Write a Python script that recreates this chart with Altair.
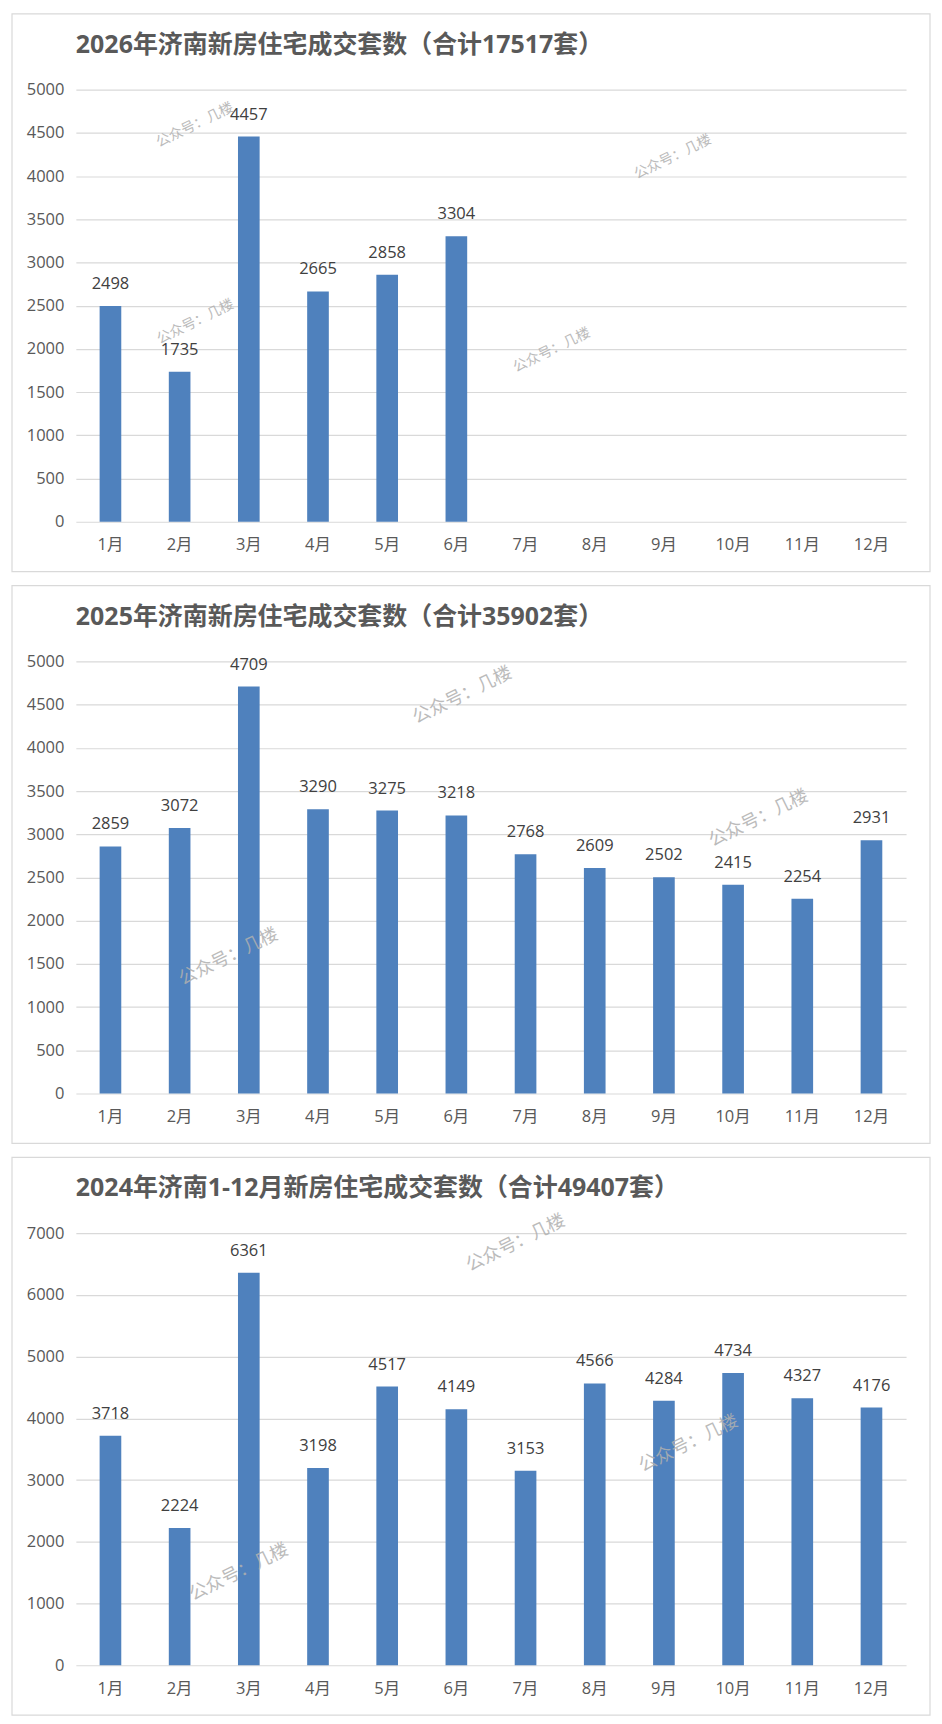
import altair as alt
import pandas as pd

months = ["1月", "2月", "3月", "4月", "5月", "6月", "7月", "8月", "9月", "10月", "11月", "12月"]

title_2026 = "2026年济南新房住宅成交套数（合计17517套）"
title_2025 = "2025年济南新房住宅成交套数（合计35902套）"
title_2024 = "2024年济南1-12月新房住宅成交套数（合计49407套）"

values_2026 = [2498, 1735, 4457, 2665, 2858, 3304]
values_2025 = [2859, 3072, 4709, 3290, 3275, 3218, 2768, 2609, 2502, 2415, 2254, 2931]
values_2024 = [3718, 2224, 6361, 3198, 4517, 4149, 3153, 4566, 4284, 4734, 4327, 4176]

watermark_text = "公众号：几楼"
wm_pos_2026 = [1.72, 8.63, 1.73, 6.88]
wm_val_2026 = [4589, 4219, 2312, 1983]
wm_pos_2025 = [5.59, 9.87, 2.21]
wm_val_2025 = [4604, 3180, 1578]
wm_pos_2024 = [6.36, 8.86, 2.36]
wm_val_2024 = [6834, 3585, 1501]

NUM_FONT = "Open Sans, Noto Sans CJK SC"
CJK_FONT = "Noto Sans CJK SC"
W, H = 832, 433


def panel(title, values, ymax, ystep, wm_pos, wm_val, wm_size):
    df = pd.DataFrame({"month": months[: len(values)], "value": values})
    one = pd.DataFrame({"t": [title]})
    wm = pd.DataFrame({"pos": wm_pos, "value": wm_val, "t": [watermark_text] * len(wm_pos)})

    xscale = alt.Scale(domain=months, paddingInner=0.687, paddingOuter=0.3435)
    yscale = alt.Scale(domain=[0, ymax], nice=False)

    xaxis = alt.Axis(
        labelAngle=0,
        ticks=False,
        domain=False,
        labelPadding=15,
        labelFontSize=16.5,
        labelColor="#595959",
        labelFont=NUM_FONT,
        grid=False,
    )
    yaxis = alt.Axis(
        values=list(range(0, ymax + 1, ystep)),
        format="d",
        ticks=False,
        domain=False,
        labelPadding=12,
        labelFontSize=16.5,
        labelColor="#595959",
        labelFont=NUM_FONT,
        grid=True,
        gridColor="#d9d9d9",
        gridWidth=1.2,
    )

    border = alt.Chart(one).mark_rect(
        fill="white", fillOpacity=0, stroke="#d9d9d9", strokeWidth=1.2
    ).encode(
        x=alt.value(-64), x2=alt.value(W + 24), y=alt.value(-76), y2=alt.value(H + 50)
    )

    xenc = alt.X("month:N", scale=xscale, sort=months, title=None, axis=xaxis)
    yenc = alt.Y("value:Q", scale=yscale, title=None, axis=yaxis)

    bars = alt.Chart(df).mark_bar(color="#4F81BD").encode(x=xenc, y=yenc)

    labels = alt.Chart(df).mark_text(
        dy=-22, fontSize=16.5, color="#404040", font=NUM_FONT, baseline="middle"
    ).encode(x=xenc, y=yenc, text=alt.Text("value:Q", format="d"))

    marks = alt.layer(bars, labels)

    water = alt.Chart(wm).mark_text(
        angle=334, fontSize=wm_size, color="#b0b0b0", opacity=0.85, font=CJK_FONT
    ).encode(
        x=alt.X("pos:Q", scale=alt.Scale(domain=[0, 12], nice=False), axis=None),
        y=yenc,
        text="t:N",
    )

    head = alt.Chart(one).mark_text(
        align="left", baseline="middle", fontSize=25, fontWeight="bold",
        color="#595959", font=NUM_FONT,
    ).encode(x=alt.value(0), y=alt.value(-45), text="t:N")

    return (
        alt.layer(border, marks, water, head)
        .resolve_scale(x="independent")
        .properties(width=W, height=H)
    )


p1 = panel(title_2026, values_2026, 5000, 500, wm_pos_2026, wm_val_2026, 14)
p2 = panel(title_2025, values_2025, 5000, 500, wm_pos_2025, wm_val_2025, 18)
p3 = panel(title_2024, values_2024, 7000, 1000, wm_pos_2024, wm_val_2024, 18)

chart = (
    alt.vconcat(p1, p2, p3, spacing=12)
    .properties(padding={"left": 3, "top": 3, "right": 3, "bottom": 3}, background="white")
    .configure_view(stroke=None)
)

chart.save("out.html", embed_options={"renderer": "svg", "actions": False})
